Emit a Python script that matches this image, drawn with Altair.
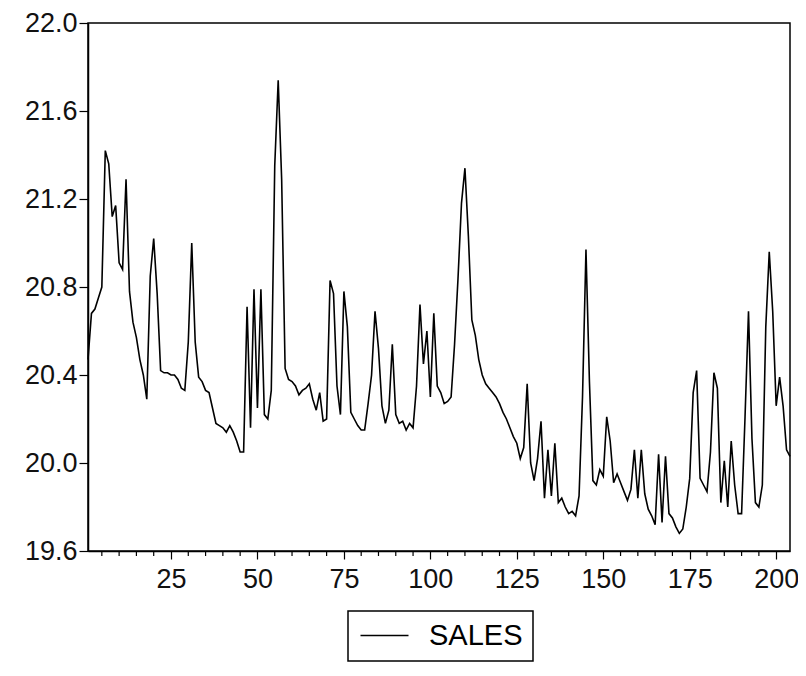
import altair as alt
import pandas as pd

# SALES, observations 1-41
seg_a = [20.47, 20.68, 20.70, 20.75, 20.80, 21.42, 21.36, 21.12, 21.17, 20.91,
         20.88, 21.29, 20.78, 20.64, 20.57, 20.47, 20.40, 20.29, 20.85, 21.02,
         20.77, 20.42, 20.41, 20.41, 20.40, 20.40, 20.38, 20.34, 20.33, 20.55,
         21.00, 20.55, 20.39, 20.37, 20.33, 20.32, 20.25, 20.18, 20.17, 20.16,
         20.14]
# observations 42-81
seg_b = [20.17, 20.14, 20.10, 20.05, 20.05, 20.71, 20.16, 20.79, 20.25, 20.79,
         20.22, 20.20, 20.33, 21.35, 21.74, 21.29, 20.43, 20.38, 20.37, 20.35,
         20.31, 20.33, 20.34, 20.36, 20.29, 20.24, 20.32, 20.19, 20.20, 20.83,
         20.77, 20.35, 20.22, 20.78, 20.62, 20.23, 20.20, 20.17, 20.15, 20.15]
# observations 82-121
seg_c = [20.27, 20.40, 20.69, 20.52, 20.26, 20.18, 20.24, 20.54, 20.22, 20.18,
         20.19, 20.15, 20.18, 20.16, 20.35, 20.72, 20.45, 20.60, 20.30, 20.68,
         20.35, 20.32, 20.27, 20.28, 20.30, 20.54, 20.84, 21.18, 21.34, 21.03,
         20.65, 20.58, 20.47, 20.40, 20.36, 20.34, 20.32, 20.30, 20.27, 20.23]
# observations 122-162
seg_d = [20.20, 20.16, 20.12, 20.09, 20.02, 20.07, 20.36, 20.00, 19.92, 20.02,
         20.19, 19.84, 20.06, 19.85, 20.09, 19.82, 19.84, 19.80, 19.77, 19.78,
         19.76, 19.85, 20.30, 20.97, 20.37, 19.92, 19.90, 19.97, 19.94, 20.21,
         20.10, 19.91, 19.95, 19.91, 19.87, 19.83, 19.88, 20.06, 19.84, 20.06,
         19.86]
# observations 163-204
seg_e = [19.79, 19.76, 19.72, 20.04, 19.73, 20.03, 19.77, 19.75, 19.71, 19.68,
         19.70, 19.80, 19.93, 20.32, 20.42, 19.93, 19.90, 19.87, 20.05, 20.41,
         20.34, 19.82, 20.01, 19.80, 20.10, 19.90, 19.77, 19.77, 20.21, 20.69,
         20.11, 19.82, 19.80, 19.90, 20.62, 20.96, 20.69, 20.26, 20.39, 20.26,
         20.06, 20.03]

sales = seg_a + seg_b + seg_c + seg_d + seg_e
obs = list(range(1, len(sales) + 1))

y_ticks = [19.6, 20.0, 20.4, 20.8, 21.2, 21.6, 22.0]
x_ticks = [25, 50, 75, 100, 125, 150, 175, 200]
minor_ticks = [t for t in range(5, 205, 5) if t % 25 != 0]

df = pd.DataFrame({"obs": obs, "SALES": sales, "series": ["SALES"] * len(sales)})
minor_df = pd.DataFrame({"t": minor_ticks})

FONT = "Liberation Sans"
x_scale = alt.Scale(domain=[1, 204], nice=False, zero=False)
x_axis = alt.Axis(values=x_ticks, title=None, tickSize=8, labelPadding=7, labelFlush=False)

line = alt.Chart(df).mark_line(strokeWidth=1.6).encode(
    x=alt.X("obs:Q", scale=x_scale, axis=x_axis, title=None),
    y=alt.Y("SALES:Q", scale=alt.Scale(domain=[19.6, 22.0], nice=False, zero=False),
            axis=alt.Axis(values=y_ticks, format=".1f", title=None, tickSize=9,
                          labelPadding=2, labelBaseline="middle", labelFlush=False)),
    color=alt.Color("series:N", scale=alt.Scale(range=["black"]),
                    legend=alt.Legend(title=None, orient="none", legendX=260, legendY=588,
                                      symbolType="M-2,0H2", symbolSize=576,
                                      symbolStrokeWidth=1.5, symbolOffset=12,
                                      labelFontSize=29,
                                      labelFont=FONT, labelColor="black",
                                      strokeColor="black", padding=10,
                                      labelOffset=30)),
)

minor = alt.Chart(minor_df).mark_rule(color="black", strokeWidth=1.2).encode(
    x=alt.X("t:Q", scale=x_scale, axis=x_axis, title=None),
    y=alt.value(528),
    y2=alt.value(533),
)

chart = alt.layer(line, minor).properties(
    width=702, height=528,
    padding={"left": 80, "top": 15, "right": 8, "bottom": 125},
    autosize=alt.AutoSizeParams(type="none"),
).configure_view(
    stroke="black", strokeWidth=1.5
).configure_axis(
    domainColor="black", domainWidth=1.5, tickColor="black", tickWidth=1.2,
    labelColor="#111111", labelFont=FONT, labelFontSize=27, grid=False
).configure_legend(
    strokeWidth=1.5
)

chart.save("out.html", embed_options={"renderer": "svg", "actions": False})
